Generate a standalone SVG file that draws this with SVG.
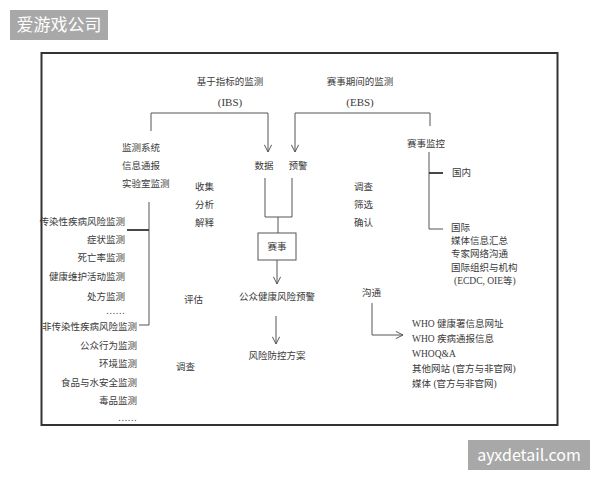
<svg xmlns="http://www.w3.org/2000/svg" width="600" height="480" viewBox="0 0 600 480">
<defs>
<style>
.t{font-family:"Liberation Serif","Noto Sans CJK SC",serif;font-size:9.5px;fill:#3a3a3a}
.b{font-size:11px}
.m{text-anchor:middle}
.e{text-anchor:end}
.ln{stroke:#555;stroke-width:1;fill:none}
.lk{stroke:#333;stroke-width:1.8;fill:none}
.wm{font-family:"Noto Sans CJK SC","Liberation Sans",sans-serif;fill:#fff}
</style>
<marker id="v" viewBox="0 0 10 10" refX="9" refY="5" markerWidth="9" markerHeight="9" markerUnits="userSpaceOnUse" orient="auto">
<polyline points="1,1 9,5 1,9" fill="none" stroke="#555" stroke-width="1.1"/>
</marker>
</defs>
<rect width="600" height="480" fill="#fff"/>
<rect x="41.5" y="53" width="516" height="372" fill="#fff" stroke="#333" stroke-width="2"/>

<g id="watermark1"><rect x="10" y="10" width="98" height="30" fill="#a8a8a8"/><text class="wm" x="59" y="31" font-size="17" text-anchor="middle">爱游戏公司</text></g>
<g id="watermark2"><rect x="468" y="440" width="122" height="30" fill="#a8a8a8"/><text class="wm" x="529" y="461" font-size="16" text-anchor="middle" font-family="Liberation Sans,sans-serif">ayxdetail.com</text></g>

<g id="connectors">
<polyline class="ln" points="151,131 151,113 268,113 268,152" marker-end="url(#v)"/>
<polyline class="ln" points="430,126 430,113 295,113 295,152" marker-end="url(#v)"/>
<polyline class="ln" points="265,178 265,217 292,217 292,178"/>
<line class="ln" x1="278" y1="217" x2="278" y2="233"/>
<line class="ln" x1="277" y1="260" x2="277" y2="284" marker-end="url(#v)"/>
<line class="ln" x1="276" y1="316" x2="276" y2="344" marker-end="url(#v)"/>
<line class="ln" x1="149" y1="202" x2="149" y2="325"/>
<line class="lk" x1="127" y1="230" x2="149" y2="230"/>
<line class="ln" x1="139" y1="325" x2="149" y2="325"/>
<line class="ln" x1="429" y1="152" x2="429" y2="229"/>
<line class="lk" x1="429" y1="173" x2="443" y2="173"/>
<line class="ln" x1="429" y1="229" x2="443" y2="229"/>
<polyline class="ln" points="372,303 372,335 403,335" marker-end="url(#v)"/>
</g>

<g id="ibs"><text class="t m" x="230" y="85">基于指标的监测</text><text class="t m b" x="230" y="106">(IBS)</text></g>
<g id="ebs"><text class="t m" x="360" y="85">赛事期间的监测</text><text class="t m b" x="360" y="106">(EBS)</text></g>
<g id="data"><text class="t m" x="264" y="169">数据</text></g>
<g id="alert"><text class="t m" x="298" y="169">预警</text></g>
<g id="event"><rect x="258" y="233" width="38" height="27" fill="#fff" stroke="#555"/><text class="t m" x="277" y="250">赛事</text></g>
<g id="public-alert"><text class="t m" x="277" y="300">公众健康风险预警</text></g>
<g id="plan"><text class="t m" x="277" y="359">风险防控方案</text></g>

<g id="ibs-sources">
<text class="t" x="122" y="151">监测系统</text>
<text class="t" x="122" y="169">信息通报</text>
<text class="t" x="122" y="187">实验室监测</text>
</g>
<g id="ibs-steps">
<text class="t" x="195" y="190">收集</text>
<text class="t" x="195" y="208">分析</text>
<text class="t" x="195" y="226">解释</text>
<text class="t" x="184" y="303">评估</text>
<text class="t" x="176" y="370">调查</text>
</g>
<g id="communicable">
<text class="t e" x="125" y="225">传染性疾病风险监测</text>
<text class="t e" x="125" y="243">症状监测</text>
<text class="t e" x="125" y="261">死亡率监测</text>
<text class="t e" x="125" y="280">健康维护活动监测</text>
<text class="t e" x="125" y="300">处方监测</text>
<text class="t e" x="125" y="314">……</text>
</g>
<g id="noncommunicable">
<text class="t e" x="137" y="330">非传染性疾病风险监测</text>
<text class="t e" x="137" y="349">公众行为监测</text>
<text class="t e" x="137" y="367">环境监测</text>
<text class="t e" x="137" y="386">食品与水安全监测</text>
<text class="t e" x="137" y="404">毒品监测</text>
<text class="t e" x="137" y="421">……</text>
</g>
<g id="ebs-steps">
<text class="t" x="354" y="190">调查</text>
<text class="t" x="354" y="208">筛选</text>
<text class="t" x="354" y="226">确认</text>
</g>
<g id="event-monitor"><text class="t m" x="426" y="147">赛事监控</text></g>
<g id="domestic"><text class="t" x="452" y="176">国内</text></g>
<g id="international">
<text class="t" x="451" y="231">国际</text>
<text class="t" x="451" y="244">媒体信息汇总</text>
<text class="t" x="451" y="257">专家网络沟通</text>
<text class="t" x="451" y="271">国际组织与机构</text>
<text class="t" x="454" y="284">(ECDC, OIE等)</text>
</g>
<g id="communicate"><text class="t" x="362" y="296">沟通</text></g>
<g id="channels">
<text class="t" x="412" y="327">WHO 健康署信息网址</text>
<text class="t" x="412" y="342">WHO 疾病通报信息</text>
<text class="t" x="412" y="357">WHOQ&amp;A</text>
<text class="t" x="412" y="372">其他网站 (官方与非官网)</text>
<text class="t" x="412" y="387">媒体 (官方与非官网)</text>
</g>
</svg>
